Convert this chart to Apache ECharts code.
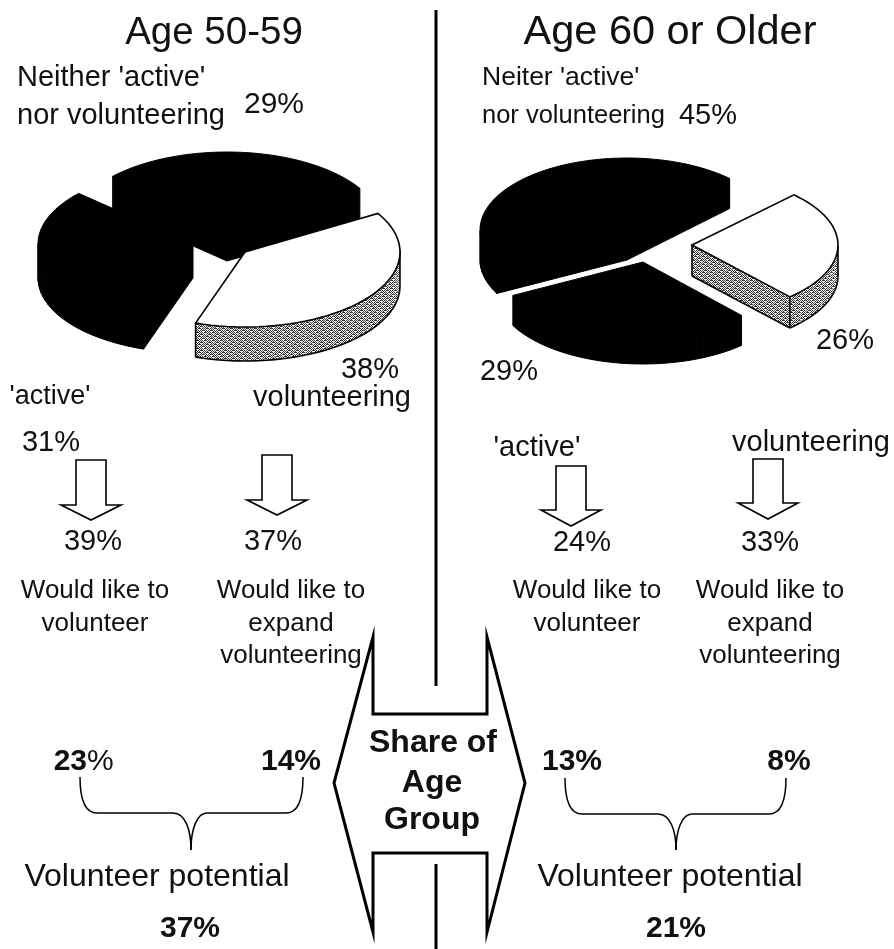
<!DOCTYPE html>
<html><head><meta charset="utf-8">
<style>html,body{margin:0;padding:0;background:#fff}#c{width:894px;height:949px}</style>
<script src="https://cdn.jsdelivr.net/npm/echarts@6/dist/echarts.min.js"></script>
</head><body><div id="c"></div>
<script>
// ---- data
const sliceNames = ['volunteering', "'active'", "Neither 'active' nor volunteering"];
const share5059 = [38, 31, 29];
const share60 = [26, 29, 45];
const wouldLike5059 = [39, 37];
const wouldLike60 = [24, 33];
const potentialParts5059 = [23, 14];
const potentialParts60 = [13, 8];
const potentialTotal5059 = 37;
const potentialTotal60 = 21;

// ---- layout (kept apart from the data)
const pieLayouts = {
  left: { startAngle: 31, slices: [
    { cx: 245, cy: 252, rx: 155, ry: 75, depth: 34, top: '#fff', side: 'pattern', z: 3 },
    { cx: 193, cy: 244, rx: 155, ry: 75, depth: 34, top: '#000', side: '#000', z: 1 },
    { cx: 227, cy: 227, rx: 155, ry: 75, depth: 34, top: '#000', side: '#000', z: 2 }
  ]},
  right: { startAngle: 45.7, slices: [
    { cx: 692, cy: 245, rx: 146, ry: 70, depth: 31, top: '#fff', side: 'pattern', z: 3 },
    { cx: 643, cy: 262, rx: 147, ry: 72, depth: 30, top: '#000', side: '#000', z: 1 },
    { cx: 627, cy: 230, rx: 147, ry: 72, depth: 30, top: '#000', side: '#000', z: 2 }
  ]}
};

function stipple() {
  const cv = document.createElement('canvas');
  cv.width = 8; cv.height = 8;
  const g = cv.getContext('2d');
  const rows = ['10101011','01010100','10111010','01000101','10101110','01010001','11101010','00010101'];
  rows.forEach((r, y) => r.split('').forEach((b, x) => {
    g.fillStyle = b === '1' ? '#333' : '#f2f2f2';
    g.fillRect(x, y, 1, 1);
  }));
  return { image: cv, repeat: 'repeat' };
}
const stipplePattern = stipple();

function pieRender(layout, values) {
  const total = values.reduce((a, b) => a + b, 0);
  return function (params, api) {
    const i = params.dataIndex;
    const L = layout.slices[i];
    const val = api.value(0);
    let before = 0;
    for (let k = 0; k < i; k++) before += values[k];
    const a0 = layout.startAngle - before / total * 360;
    const a1 = a0 - val / total * 360;
    const pts = [[L.cx, L.cy]];
    const n = Math.max(2, Math.ceil((a0 - a1) / 3));
    for (let k = 0; k <= n; k++) {
      const a = (a0 + (a1 - a0) * k / n) * Math.PI / 180;
      pts.push([L.cx + L.rx * Math.cos(a), L.cy - L.ry * Math.sin(a)]);
    }
    const tips = new Set([0, 1, pts.length - 1]);
    const sideFill = L.side === 'pattern' ? stipplePattern : L.side;
    const ln = { stroke: '#000', lineWidth: 1.6, fill: null };
    const kids = [];
    const N = pts.length;
    const front = [];
    for (let k = 0; k < N; k++) {
      const p = pts[k], q = pts[(k + 1) % N];
      front[k] = q[0] - p[0] < 0;
      if (front[k]) {
        kids.push({ type: 'polygon', z2: L.z,
          shape: { points: [p, q, [q[0], q[1] + L.depth], [p[0], p[1] + L.depth]] },
          style: { fill: sideFill, stroke: L.side === 'pattern' ? null : '#000', lineWidth: 1 } });
      }
    }
    if (L.side === 'pattern') {
      for (let k = 0; k < N; k++) {
        const p = pts[k], q = pts[(k + 1) % N];
        if (front[k]) kids.push({ type: 'line', z2: L.z,
          shape: { x1: p[0], y1: p[1] + L.depth, x2: q[0], y2: q[1] + L.depth }, style: ln });
        const prev = front[(k + N - 1) % N];
        if (prev !== front[k] || (tips.has(k) && (prev || front[k]))) kids.push({ type: 'line', z2: L.z,
          shape: { x1: p[0], y1: p[1], x2: p[0], y2: p[1] + L.depth }, style: ln });
      }
    }
    kids.push({ type: 'polygon', z2: L.z + 1, shape: { points: pts },
      style: { fill: L.top, stroke: '#000', lineWidth: L.top === '#000' ? 1 : 1.6 } });
    return { type: 'group', children: kids };
  };
}

function pieSeries(name, values, layout) {
  return {
    type: 'custom', name, coordinateSystem: 'none', silent: true, animation: false,
    data: values.map((v, i) => ({ name: sliceNames[i], value: [v] })),
    renderItem: pieRender(layout, values)
  };
}

const FONT = '"Liberation Sans", Arial, sans-serif';
function T(text, x, y, size, opt) {
  opt = opt || {};
  return { type: 'text', silent: true, z: 10, style: {
    text, x, y, fill: '#111', textAlign: opt.align || 'center', textVerticalAlign: 'middle',
    font: (opt.bold ? 'bold ' : '') + size + 'px ' + FONT } };
}
const pct = v => v + '%';
function arrow(cx, top, shoulder, tip, shaftHalf, headHalf) {
  return { type: 'polygon', silent: true, z: 5,
    shape: { points: [[cx - shaftHalf, top], [cx + shaftHalf, top], [cx + shaftHalf, shoulder],
      [cx + headHalf, shoulder], [cx, tip], [cx - headHalf, shoulder], [cx - shaftHalf, shoulder]] },
    style: { fill: '#fff', stroke: '#000', lineWidth: 1.6 } };
}
function curve(x1, y1, cpx1, cpy1, cpx2, cpy2, x2, y2) {
  return { type: 'bezierCurve', silent: true, z: 5,
    shape: { x1, y1, cpx1, cpy1, cpx2, cpy2, x2, y2 },
    style: { fill: null, stroke: '#000', lineWidth: 1.5 } };
}
function seg(x1, y1, x2, y2, w) {
  return { type: 'line', silent: true, z: 5, shape: { x1, y1, x2, y2 },
    style: { stroke: '#000', lineWidth: w || 1.5 } };
}
function brace(xl, xm, xr, yTop, yMid, yTip) {
  return [
    curve(xl, yTop, xl, yMid - 12, xl + 6, yMid, xl + 17, yMid),
    seg(xl + 17, yMid, xm - 18, yMid),
    curve(xm - 18, yMid, xm - 6, yMid, xm, yMid + 16, xm, yTip),
    curve(xm, yTip, xm, yMid + 16, xm + 6, yMid, xm + 16, yMid),
    seg(xm + 16, yMid, xr - 17, yMid),
    curve(xr - 17, yMid, xr - 6, yMid, xr, yMid - 12, xr, yTop)
  ];
}

const LS = 29, WS = 26, BS = 30;
const elements = [
  seg(436, 10, 436, 686, 3), seg(436, 864, 436, 949, 3),
  { type: 'polygon', silent: true, z: 4,
    shape: { points: [[373, 637], [373, 714], [487, 714], [487, 637], [525, 783], [487, 932],
      [487, 853], [373, 853], [373, 932], [334, 783]] },
    style: { fill: null, stroke: '#000', lineWidth: 3, lineJoin: 'miter', miterLimit: 12 } },
  T('Age 50-59', 214, 33, 38.5), T('Age 60 or Older', 670, 33, 41.5),

  T("Neither 'active'", 17, 78, LS, { align: 'left' }),
  T('nor volunteering', 17, 116, LS, { align: 'left' }),
  T(pct(share5059[2]), 274, 105, 30),
  T(pct(share5059[0]), 370, 370, LS),
  T(sliceNames[0], 332, 398, LS),
  T(sliceNames[1], 50, 397, 27),
  T(pct(share5059[1]), 51, 443, LS),
  T(pct(wouldLike5059[0]), 93, 542, LS),
  T(pct(wouldLike5059[1]), 273, 542, LS),
  T('Would like to', 95, 591, WS), T('volunteer', 95, 624, WS),
  T('Would like to', 291, 591, WS), T('expand', 291, 624, WS), T('volunteering', 291, 656, WS),

  T("Neiter 'active'", 482, 78, 26.5, { align: 'left' }),
  T('nor volunteering', 482, 116, 25.5, { align: 'left' }),
  T(pct(share60[2]), 708, 116, LS),
  T(pct(share60[0]), 845, 341, LS),
  T(pct(share60[1]), 509, 372, LS),
  T(sliceNames[1], 537, 448, LS),
  T(sliceNames[0], 811, 443, LS),
  T(pct(wouldLike60[0]), 582, 543, LS),
  T(pct(wouldLike60[1]), 770, 543, LS),
  T('Would like to', 587, 591, WS), T('volunteer', 587, 624, WS),
  T('Would like to', 770, 591, WS), T('expand', 770, 624, WS), T('volunteering', 770, 656, WS),

  arrow(91, 460, 505, 520, 15, 30), arrow(277, 455, 500, 515, 15, 30),
  arrow(571, 466, 510, 526, 15, 30), arrow(768, 459, 503, 519, 15, 30),

  T('Share of', 433, 743, 32, { bold: true }), T('Age', 432, 783, 32, { bold: true }), T('Group', 432, 820, 32, { bold: true }),

  T(String(potentialParts5059[0]), 87, 762, BS, { bold: true, align: 'right' }),
  T('%', 87, 762, BS, { align: 'left' }),
  T(pct(potentialParts5059[1]), 291, 762, BS, { bold: true }),
  T(pct(potentialParts60[0]), 572, 762, BS, { bold: true }),
  T(pct(potentialParts60[1]), 789, 762, BS, { bold: true }),
  ...brace(80, 191, 303, 777, 813, 850),
  ...brace(565, 676, 786, 778, 814, 850),
  T('Volunteer potential', 157, 877, 32), T('Volunteer potential', 670, 877, 32),
  T(pct(potentialTotal5059), 190, 929, BS, { bold: true }),
  T(pct(potentialTotal60), 676, 929, BS, { bold: true })
];

const chart = echarts.init(document.getElementById('c'), null, { renderer: 'canvas' });
chart.setOption({
  animation: false,
  backgroundColor: '#fff',
  series: [
    pieSeries('Age 50-59', share5059, pieLayouts.left),
    pieSeries('Age 60 or Older', share60, pieLayouts.right)
  ],
  graphic: { elements }
});
</script></body></html>
